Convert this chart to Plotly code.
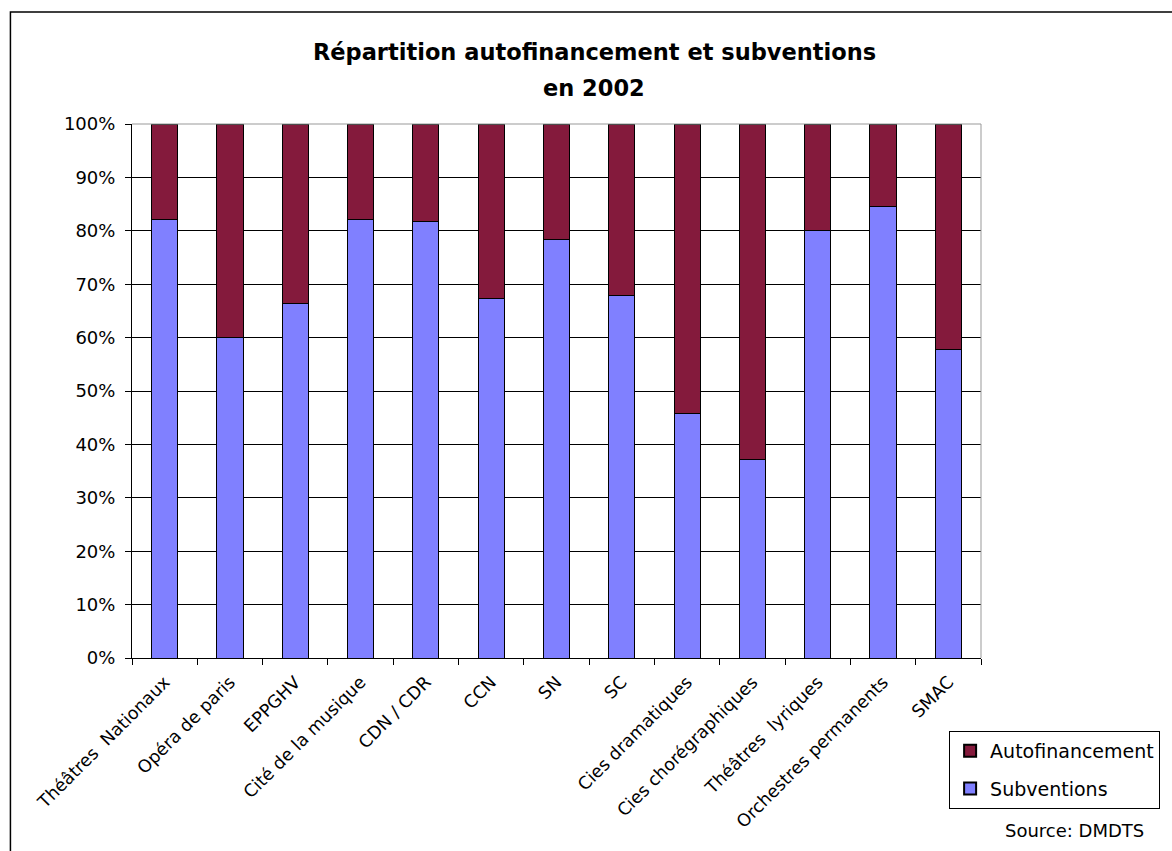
import plotly.graph_objects as go

categories = ["Théâtres  Nationaux", "Opéra de paris", "EPPGHV", "Cité de la musique",
              "CDN / CDR", "CCN", "SN", "SC", "Cies dramatiques", "Cies chorégraphiques",
              "Théâtres  lyriques", "Orchestres permanents", "SMAC"]
subventions = [82.2, 60.0, 66.4, 82.2, 81.8, 67.4, 78.3, 67.9, 45.7, 37.2, 80.0, 84.6, 57.8]
autofinancement = [round(100 - v, 1) for v in subventions]
y_ticks = [0, 10, 20, 30, 40, 50, 60, 70, 80, 90, 100]
y_tick_labels = [f"{v}%" for v in y_ticks]

W, H = 1172, 851
L, R, T, B = 132, 984, 124, 658
FONT = "DejaVu Sans, Verdana, sans-serif"

def px(x):
    return (x - L) / (R - L)

def py(y):
    return (B - y) / (B - T)

fig = go.Figure()
fig.add_trace(go.Bar(x=categories, y=subventions, name="Subventions", legendgroup="s",
                     legendrank=2,
                     marker=dict(color="#8080FF", line=dict(color="black", width=1))))
fig.add_trace(go.Bar(x=categories, y=autofinancement, name="Autofinancement", legendgroup="a",
                     legendrank=1,
                     marker=dict(color="#841A3C", line=dict(color="black", width=1))))

fig.update_layout(
    width=W, height=H,
    margin=dict(l=L, r=W - R, t=T, b=H - B, pad=0),
    barmode="stack", bargap=0.6,
    paper_bgcolor="white", plot_bgcolor="white",
    font=dict(family=FONT, color="black", size=17),
    showlegend=True,
    legend=dict(x=px(952), y=py(731), xanchor="left", yanchor="top",
                traceorder="grouped", tracegroupgap=10,
                bordercolor="black", borderwidth=1, itemwidth=30,
                bgcolor="white", font=dict(size=19), itemsizing="constant"),
    xaxis=dict(showline=True, linecolor="black", linewidth=1, ticks="outside",
               ticklen=6, tickcolor="black", tickson="boundaries", tickangle=-45,
               showgrid=False, tickfont=dict(size=17.5), ticklabelstandoff=6),
    yaxis=dict(range=[0, 100], tickvals=y_ticks, ticktext=y_tick_labels,
               showline=True, linecolor="black", linewidth=1, ticks="outside",
               ticklen=6, tickcolor="black", showgrid=True, gridcolor="black",
               gridwidth=1, zeroline=False, tickfont=dict(size=18), ticklabelstandoff=6),
    shapes=[
        dict(type="line", xref="paper", yref="paper", x0=0, x1=1, y0=1, y1=1,
             line=dict(color="#999999", width=1)),
        dict(type="line", xref="paper", yref="paper", x0=1, x1=1, y0=0, y1=1,
             line=dict(color="#999999", width=1)),
        dict(type="rect", xref="paper", yref="paper", x0=px(10), x1=px(1180),
             y0=py(860), y1=py(12), line=dict(color="black", width=1.5)),
    ],
    annotations=[
        dict(text="<b>Répartition autofinancement et subventions</b>", xref="paper",
             yref="paper", x=px(596), y=py(52), showarrow=False,
             font=dict(size=22.5), xanchor="center", yanchor="middle"),
        dict(text="<b>en 2002</b>", xref="paper", yref="paper", x=px(596), y=py(88),
             showarrow=False, font=dict(size=22.5), xanchor="center", yanchor="middle"),
        dict(text="Source: DMDTS", xref="paper", yref="paper", x=px(1078), y=py(830),
             showarrow=False, font=dict(size=18), xanchor="center", yanchor="middle"),
    ],
)

fig.write_html("out.html")
